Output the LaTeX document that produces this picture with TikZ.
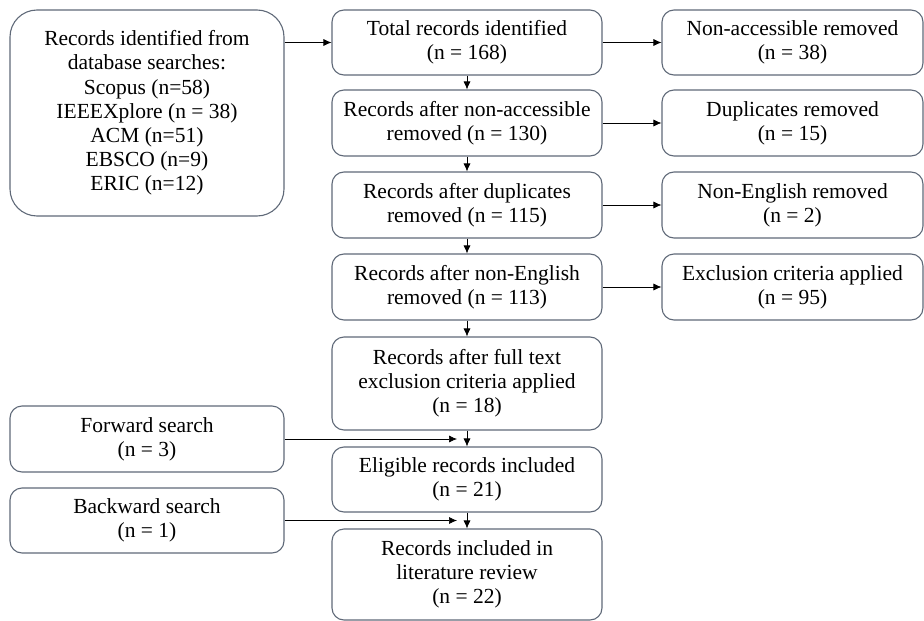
\documentclass[tikz,border=0pt]{standalone}
\usepackage{fontspec}
\setmainfont{Liberation Serif}
\usetikzlibrary{arrows.meta}
\definecolor{boxline}{RGB}{95,105,120}
\begin{document}
\begin{tikzpicture}[x=1pt,y=-1pt,
  box/.style={draw=boxline, line width=1.1pt, rounded corners=12pt, align=center,
    font=\rmfamily\fontsize{21.5}{24.2}\selectfont, inner sep=0pt},
  mid/.style={box, minimum width=270pt},
  side/.style={box, minimum width=261pt},
  lft/.style={box, minimum width=274pt},
  arr/.style={line width=0.7pt, -{Latex[length=8pt,width=7pt]}}]
\useasboundingbox (0,0) rectangle (924,621);
\node[lft, minimum height=206pt, rounded corners=27pt] (L) at (147,113)
  {Records identified from\\database searches:\\Scopus (n=58)\\IEEEXplore (n = 38)\\ACM (n=51)\\EBSCO (n=9)\\ERIC (n=12)};
\node[mid, minimum height=65pt] (T1) at (467,42.5) {Total records identified\\(n = 168)};
\node[side, minimum height=65pt] (R1) at (792.5,42.5) {Non-accessible removed\\(n = 38)};
\node[mid, minimum height=66pt] (T2) at (467,123) {Records after non-accessible\\removed (n = 130)};
\node[side, minimum height=66pt] (R2) at (792.5,123) {Duplicates removed\\(n = 15)};
\node[mid, minimum height=66pt] (T3) at (467,205) {Records after duplicates\\removed (n = 115)};
\node[side, minimum height=66pt] (R3) at (792.5,205) {Non-English removed\\(n = 2)};
\node[mid, minimum height=66pt] (T4) at (467,287) {Records after non-English\\removed (n = 113)};
\node[side, minimum height=66pt] (R4) at (792.5,287) {Exclusion criteria applied\\(n = 95)};
\node[mid, minimum height=93pt] (T5) at (467,383.5) {Records after full text\\exclusion criteria applied\\(n = 18)};
\node[lft, minimum height=66pt] (F) at (147,439) {Forward search\\(n = 3)};
\node[mid, minimum height=65pt] (T6) at (467,479.5) {Eligible records included\\(n = 21)};
\node[lft, minimum height=65pt] (B) at (147,520.5) {Backward search\\(n = 1)};
\node[mid, minimum height=91pt] (T7) at (467,574.5) {Records included in\\literature review\\(n = 22)};
\coordinate (fa) at (457,439);
\coordinate (ba) at (457,520.5);
\draw[arr] (L.east |- T1.west) -- (T1.west);
\draw[arr] (T1.east) -- (R1.west);
\draw[arr] (T2.east) -- (R2.west);
\draw[arr] (T3.east) -- (R3.west);
\draw[arr] (T4.east) -- (R4.west);
\draw[arr] (T1.south) -- (T2.north);
\draw[arr] (T2.south) -- (T3.north);
\draw[arr] (T3.south) -- (T4.north);
\draw[arr] (T4.south) -- (T5.north);
\draw[arr] (T5.south) -- (T6.north);
\draw[arr] (T6.south) -- (T7.north);
\draw[arr] (F.east) -- (fa);
\draw[arr] (B.east) -- (ba);
\end{tikzpicture}
\end{document}
